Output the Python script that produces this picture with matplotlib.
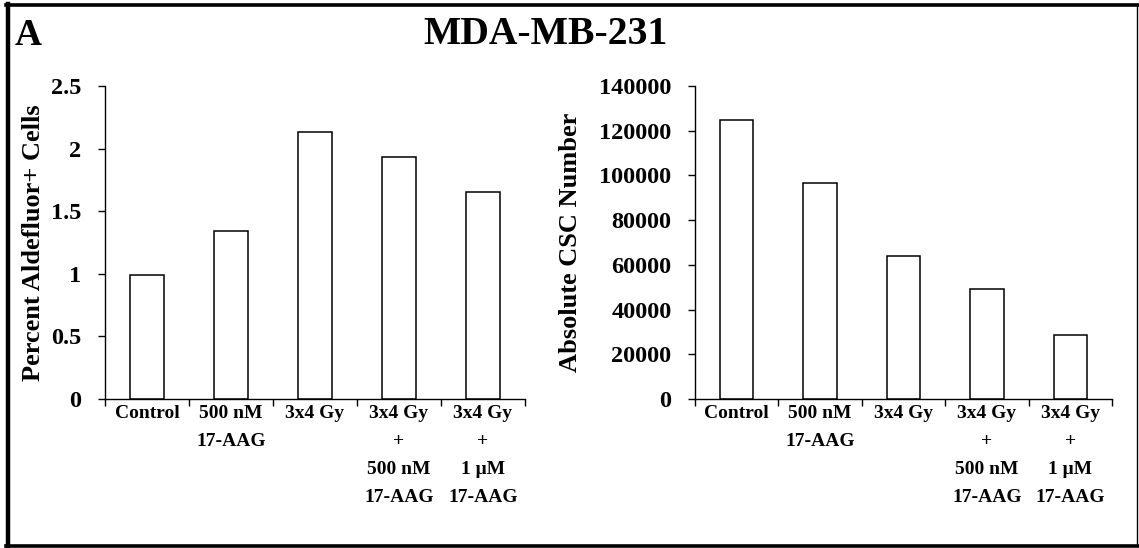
import matplotlib
matplotlib.use("Agg")
import matplotlib.pyplot as plt
from matplotlib.lines import Line2D
import numpy as np

plt.rcParams['font.family'] = ['Liberation Serif', 'DejaVu Serif']
plt.rcParams['font.weight'] = 'bold'

categories = ["Control", "500 nM\n17-AAG", "3x4 Gy", "3x4 Gy\n+\n500 nM\n17-AAG",
              "3x4 Gy\n+\n1 \u03bcM\n17-AAG"]
pct_aldefluor = [0.99, 1.34, 2.13, 1.93, 1.65]
csc_number = [124800, 96600, 64000, 49000, 28600]

left_ticks = [0, 0.5, 1, 1.5, 2, 2.5]
left_ticklabels = ["0", "0.5", "1", "1.5", "2", "2.5"]
right_ticks = [0, 20000, 40000, 60000, 80000, 100000, 120000, 140000]

fig = plt.figure(figsize=(11.39, 5.48), dpi=100)

# outer frame
fig.add_artist(Line2D([0.0066, 0.0066], [0.003, 0.993], color="black", lw=3.2, transform=fig.transFigure))
fig.add_artist(Line2D([0.005, 0.999], [0.990, 0.990], color="black", lw=2.6, transform=fig.transFigure))
fig.add_artist(Line2D([0.005, 0.999], [0.004, 0.004], color="black", lw=2.6, transform=fig.transFigure))
fig.add_artist(Line2D([0.9985, 0.9985], [0.003, 0.993], color="black", lw=1.0, transform=fig.transFigure))

fig.text(0.013, 0.936, "A", fontsize=27, fontweight="bold", ha="left", va="center")
fig.text(0.479, 0.937, "MDA-MB-231", fontsize=28.5, fontweight="bold", ha="center", va="center")


def draw(ax, values, ticks, ticklabels, ylabel, ymax):
    x = np.arange(len(values))
    ax.bar(x, values, width=0.4, color="white", edgecolor="black", linewidth=1.1)
    ax.set_xlim(-0.5, len(values) - 0.5)
    ax.set_ylim(0, ymax)
    ax.set_yticks(ticks)
    ax.set_yticklabels(ticklabels, fontsize=17.5, fontweight="bold")
    ax.set_xticks(x)
    ax.set_xticklabels(categories, fontsize=14, fontweight="bold", linespacing=1.85, va="top")
    ax.set_xticks(np.arange(len(values) + 1) - 0.5, minor=True)
    ax.tick_params(axis="x", which="major", length=0, pad=4)
    ax.tick_params(axis="x", which="minor", length=5, width=1.0, direction="out")
    ax.tick_params(axis="y", length=5, width=1.0, direction="out", pad=12)
    for s in ["top", "right"]:
        ax.spines[s].set_visible(False)
    for s in ["left", "bottom"]:
        ax.spines[s].set_linewidth(1.0)
    ax.set_ylabel(ylabel, fontsize=19, fontweight="bold")


ax1 = fig.add_axes([0.0922, 0.2719, 0.3687, 0.5712])
draw(ax1, pct_aldefluor, left_ticks, left_ticklabels, "Percent Aldefluor+ Cells", 2.5)
ax1.yaxis.set_label_coords(-0.143, 0.5)

ax2 = fig.add_axes([0.6102, 0.2719, 0.3661, 0.5712])
draw(ax2, csc_number, right_ticks, [str(t) for t in right_ticks], "Absolute CSC Number", 140000)
ax2.yaxis.set_label_coords(-0.270, 0.5)

fig.savefig("out.png", dpi=100)
